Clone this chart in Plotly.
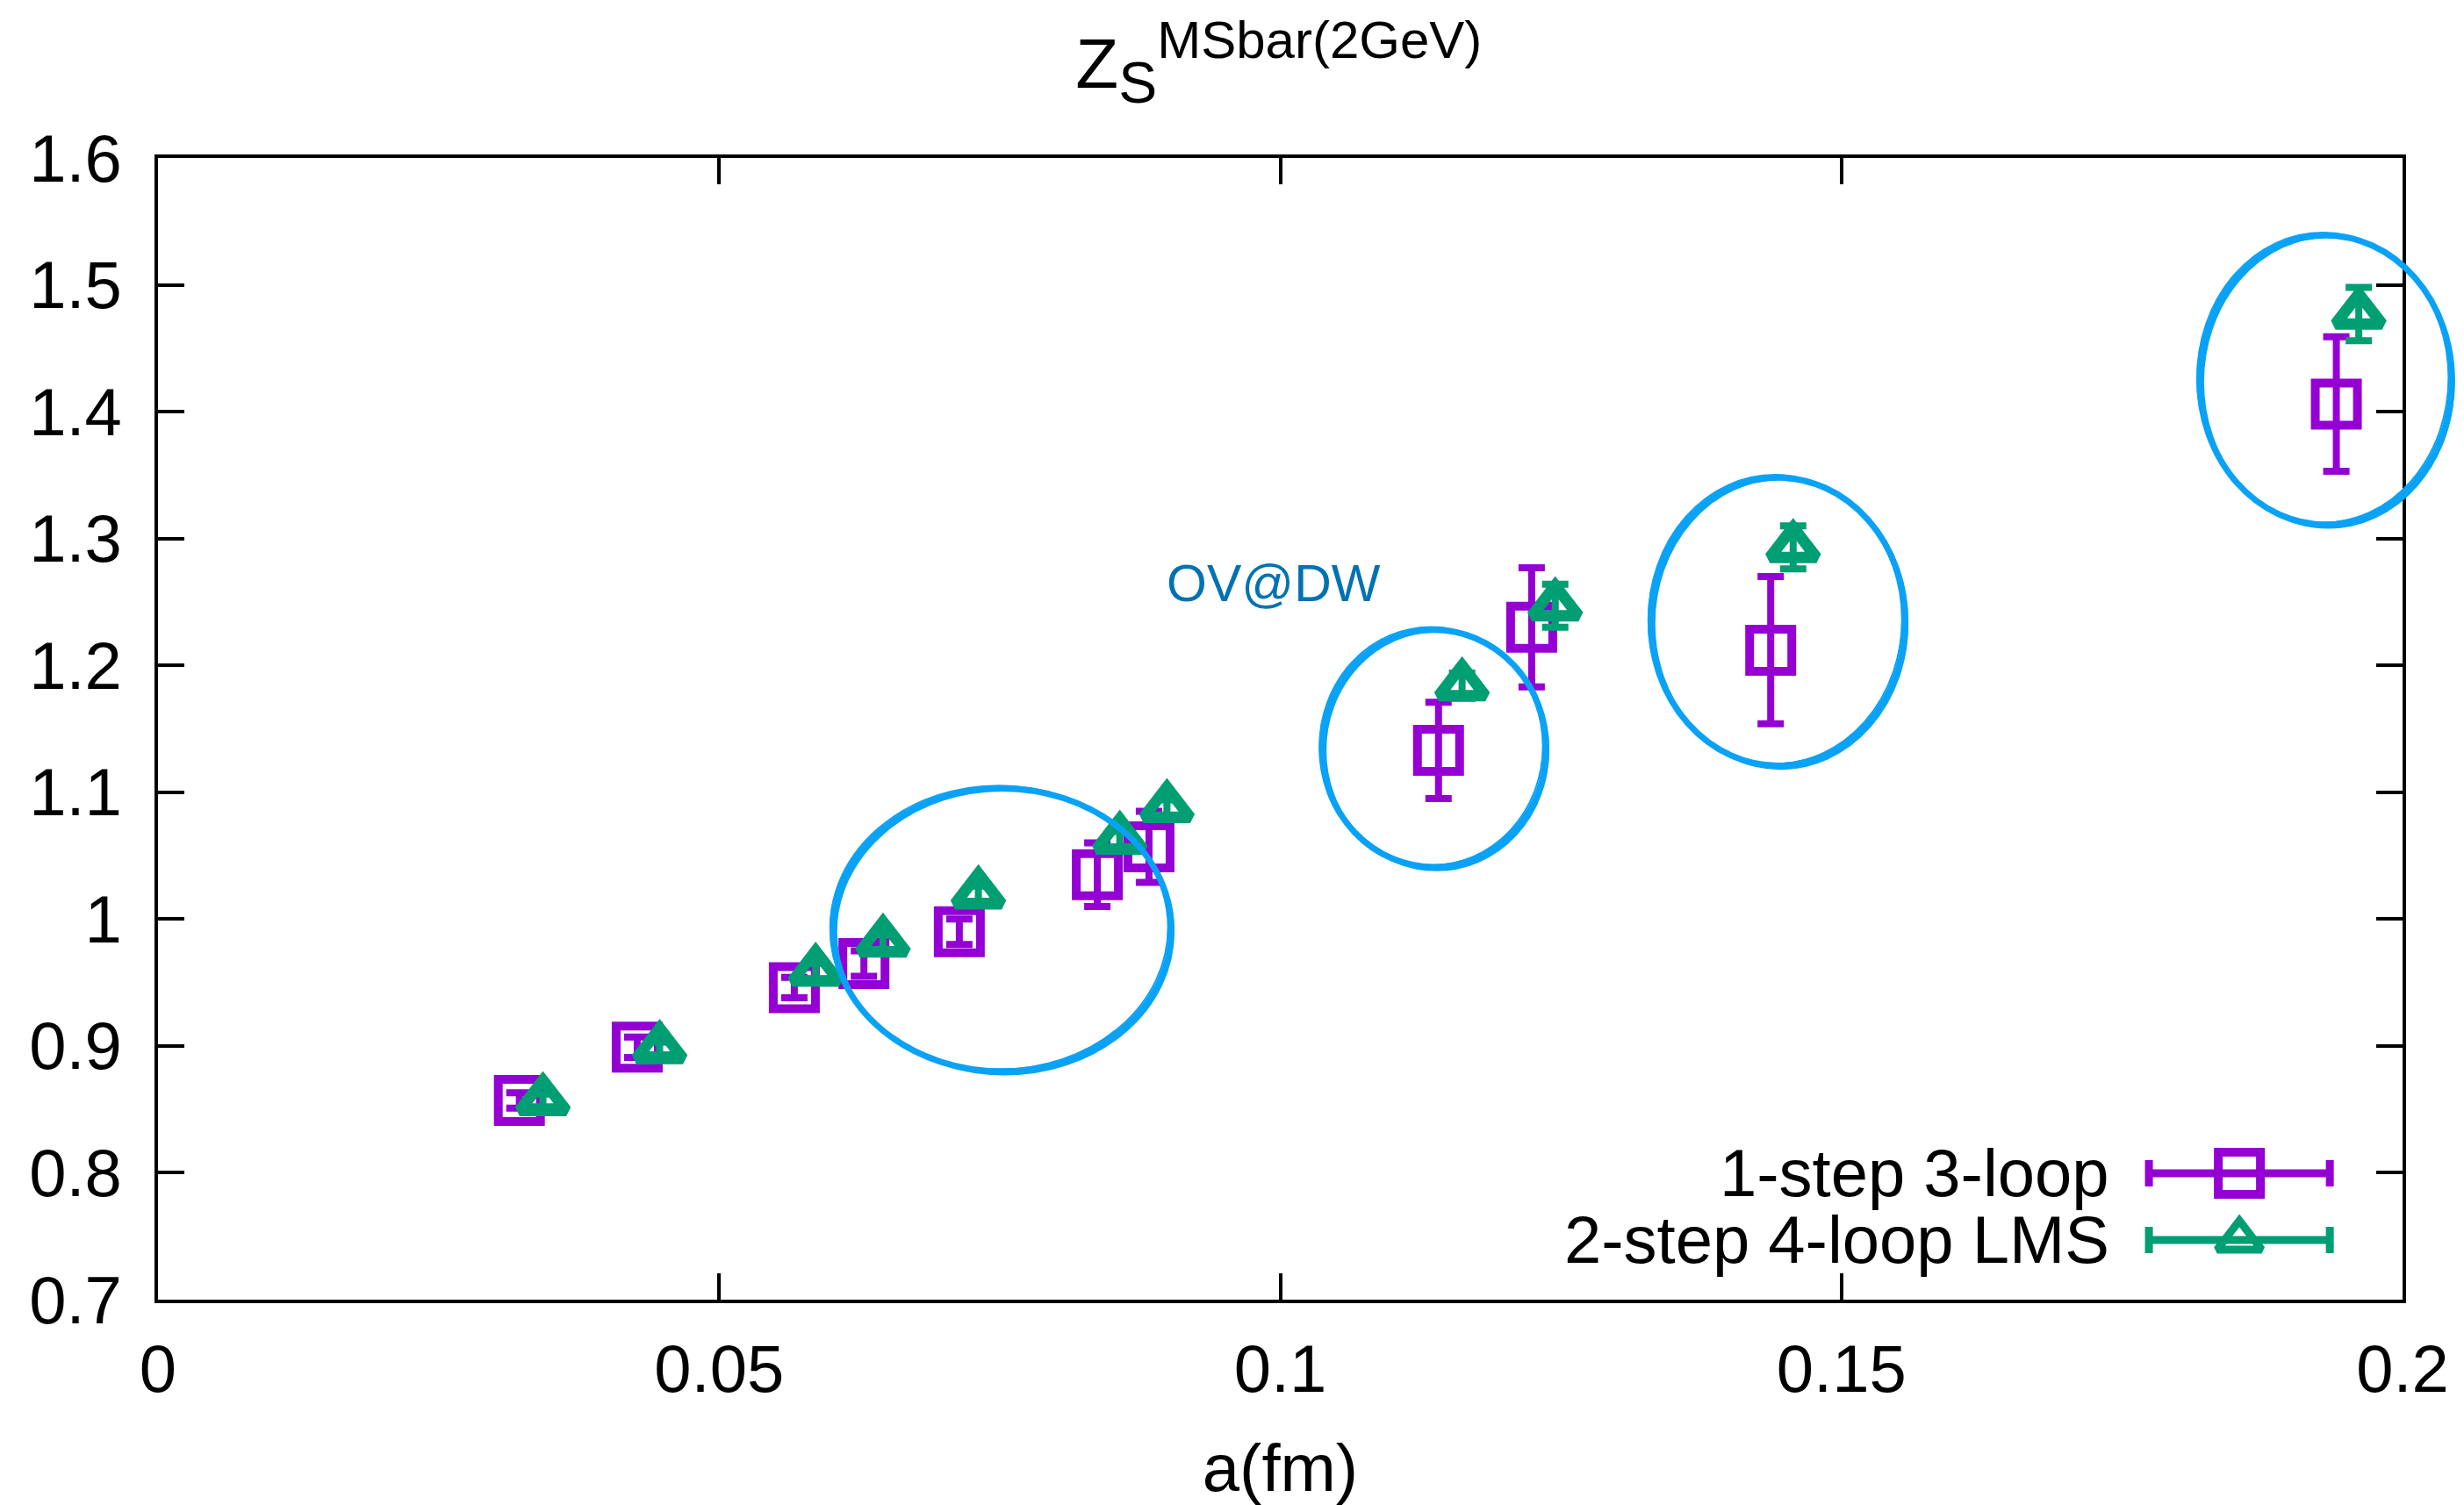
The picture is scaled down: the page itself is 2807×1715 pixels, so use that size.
import plotly.graph_objects as go

# Lattice spacing a (fm) and Z_S in MSbar at 2 GeV
a_3loop = [0.0322, 0.0427, 0.0567, 0.0629, 0.0714, 0.0837, 0.0883, 0.1141, 0.1224, 0.1437, 0.1941]
zs_3loop = [0.857, 0.899, 0.946, 0.965, 0.990, 1.035, 1.057, 1.133, 1.230, 1.212, 1.406]
err_3loop = [0.006, 0.008, 0.008, 0.010, 0.010, 0.025, 0.028, 0.038, 0.047, 0.058, 0.053]

a_4loop = [0.0343, 0.0447, 0.0586, 0.0646, 0.0731, 0.0857, 0.0899, 0.1162, 0.1245, 0.1457, 0.1961]
zs_4loop = [0.857, 0.898, 0.959, 0.982, 1.020, 1.063, 1.088, 1.184, 1.247, 1.293, 1.477]
err_4loop = [0.005, 0.005, 0.006, 0.006, 0.006, 0.006, 0.006, 0.010, 0.017, 0.017, 0.021]

series_names = ["1-step 3-loop", "2-step 4-loop LMS"]
series_colors = ["#9400D3", "#009E73"]

# Highlighted ensembles (x0, x1, y0, y1) in data units
ellipses = [
    (0.0601, 0.0903, 0.880, 1.103),
    (0.1037, 0.1237, 1.041, 1.228),
    (0.1330, 0.1557, 1.121, 1.348),
    (0.1819, 0.2044, 1.311, 1.539),
]

x_range = [0.0, 0.2]
y_range = [0.7, 1.6]
x_ticks = [0, 0.05, 0.1, 0.15, 0.2]
y_ticks = [0.7, 0.8, 0.9, 1.0, 1.1, 1.2, 1.3, 1.4, 1.5, 1.6]
y_ticktext = ["0.7", "0.8", "0.9", "1", "1.1", "1.2", "1.3", "1.4", "1.5", "1.6"]
x_ticktext = ["0", "0.05", "0.1", "0.15", "0.2"]

FONT = "Liberation Sans, Arial, Helvetica, sans-serif"
FS = 76

fig = go.Figure()

fig.add_trace(go.Scatter(
    x=a_3loop, y=zs_3loop, mode="markers", name=series_names[0],
    marker=dict(symbol="square-open", size=48, color=series_colors[0],
                line=dict(width=10, color=series_colors[0])),
    error_y=dict(type="data", array=err_3loop, visible=True,
                 color=series_colors[0], thickness=8, width=15),
    showlegend=False,
))
fig.add_trace(go.Scatter(
    x=a_4loop, y=zs_4loop, mode="markers", name=series_names[1],
    marker=dict(symbol="triangle-up-open", size=46, color=series_colors[1],
                line=dict(width=13, color=series_colors[1])),
    error_y=dict(type="data", array=err_4loop, visible=True,
                 color=series_colors[1], thickness=8, width=15),
    showlegend=False,
))

# Key entries: text right-aligned, sample (marker with error caps) to the right
key_x = 0.9273
key_half = 0.0403
key_rows = [0.1107, 0.0523]
key_symbols = ["square-open", "triangle-up-open"]
key_sizes = [48, 44]
key_widths = [10, 9]
for name, col, sym, sz, lw, ky in zip(series_names, series_colors, key_symbols,
                                      key_sizes, key_widths, key_rows):
    fig.add_trace(go.Scatter(
        x=[key_x], y=[ky], xaxis="x2", yaxis="y2", mode="markers",
        marker=dict(symbol=sym, size=sz, color=col, line=dict(width=lw, color=col)),
        error_x=dict(type="constant", value=key_half, visible=True,
                     color=col, thickness=9, width=15),
        showlegend=False, hoverinfo="skip",
    ))
    fig.add_annotation(
        x=0.870, y=ky, xref="paper", yref="paper", text=name, showarrow=False,
        xanchor="right", yanchor="middle", font=dict(family=FONT, size=FS, color="black"),
    )

# Hand-drawn style rings around selected ensembles (a few slightly offset strokes)
dx = x_range[1] - x_range[0]
dy = y_range[1] - y_range[0]
strokes = [(0.0, 0.0, 0.0, 0.0, 7),
           (0.0015, 0.0008, -0.0025, -0.001, 3),
           (-0.001, -0.0015, 0.0015, 0.0025, 2)]
for (x0, x1, y0, y1) in ellipses:
    for ox0, ox1, oy0, oy1, w in strokes:
        fig.add_shape(
            type="circle", xref="x domain", yref="y domain",
            x0=(x0 - x_range[0]) / dx + ox0, x1=(x1 - x_range[0]) / dx + ox1,
            y0=(y0 - y_range[0]) / dy + oy0, y1=(y1 - y_range[0]) / dy + oy1,
            line=dict(color="#0AA2F5", width=w),
        )

fig.add_annotation(
    x=0.0897, y=1.2647, xref="x", yref="y", text="OV@DW", showarrow=False,
    xanchor="left", yanchor="middle", font=dict(family=FONT, size=59, color="#0072B2"),
)

axis_common = dict(
    showline=True, linecolor="black", linewidth=4, mirror="allticks",
    ticks="inside", ticklen=30, tickwidth=4, tickcolor="black",
    showgrid=False, zeroline=False,
    tickfont=dict(family=FONT, size=FS, color="black"),
)

title_text = ("Z<sub><span style='font-size:66px'>S</span></sub>"
              "<sup><span style='font-size:60px'>MSbar(2GeV)</span></sup>")

fig.update_layout(
    width=2807, height=1715,
    paper_bgcolor="white", plot_bgcolor="white",
    margin=dict(l=180, r=70, t=180, b=234),
    font=dict(family=FONT, size=FS, color="black"),
    title=dict(text=title_text, x=0.519, xanchor="center",
               y=0.958, yanchor="middle", yref="container",
               font=dict(family=FONT, size=80, color="black")),
    xaxis=dict(range=x_range, tickvals=x_ticks, ticktext=x_ticktext,
               title=dict(text="a(fm)", font=dict(family=FONT, size=FS), standoff=48),
               ticklabelstandoff=10, **axis_common),
    yaxis=dict(range=y_range, tickvals=y_ticks, ticktext=y_ticktext,
               ticklabelstandoff=22, **axis_common),
    xaxis2=dict(range=[0, 1], overlaying="x", visible=False),
    yaxis2=dict(range=[0, 1], overlaying="y", visible=False),
    showlegend=False,
)

fig.write_html("out.html")
